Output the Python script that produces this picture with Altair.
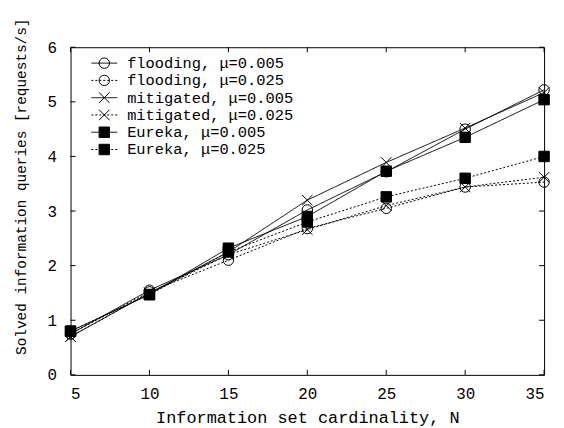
import altair as alt
import pandas as pd

# ---- data ----
N = [5, 10, 15, 20, 25, 30, 35]
flooding_005 = [0.75, 1.55, 2.20, 3.02, 3.72, 4.50, 5.22]
flooding_025 = [0.75, 1.52, 2.10, 2.68, 3.05, 3.44, 3.53]
mitigated_005 = [0.70, 1.50, 2.25, 3.20, 3.89, 4.52, 5.17]
mitigated_025 = [0.70, 1.50, 2.20, 2.66, 3.10, 3.44, 3.62]
eureka_005 = [0.80, 1.47, 2.32, 2.90, 3.73, 4.35, 5.04]
eureka_025 = [0.80, 1.47, 2.25, 2.80, 3.26, 3.60, 4.00]

methods = ["flooding", "mitigated", "Eureka"]
mus = ["0.005", "0.025"]
x_ticks = [5, 10, 15, 20, 25, 30, 35]
y_ticks = [0, 1, 2, 3, 4, 5, 6]

series = [
    ("flooding", "0.005", flooding_005),
    ("flooding", "0.025", flooding_025),
    ("mitigated", "0.005", mitigated_005),
    ("mitigated", "0.025", mitigated_025),
    ("Eureka", "0.005", eureka_005),
    ("Eureka", "0.025", eureka_025),
]

rows = []
for m, mu, vals in series:
    for n, v in zip(N, vals):
        rows.append({"method": m, "mu": mu, "n": n, "v": v, "label": f"{m}, μ={mu}"})
df = pd.DataFrame(rows)
labels = [f"{m}, μ={mu}" for m, mu, _ in series]
leg = pd.DataFrame([{"method": m, "mu": mu, "label": f"{m}, μ={mu}"} for m, mu, _ in series])
xt = pd.DataFrame({"t": x_ticks})
yt = pd.DataFrame({"t": y_ticks})

FONT = "Liberation Mono"
W, H = 477, 330
X_PATH = "M-1,-1L1,1M-1,1L1,-1"

xs = alt.Scale(domain=[5, 35], nice=False, zero=False)
ys = alt.Scale(domain=[0, 6], nice=False, zero=False)
shape_scale = alt.Scale(domain=methods, range=["circle", X_PATH, "square"])
fill_scale = alt.Scale(domain=methods, range=["transparent", "transparent", "black"])
dash_scale = alt.Scale(domain=mus, range=[[1, 0], [2, 2]])

x_axis = alt.Axis(values=x_ticks, format="d", title="Information set cardinality, N",
                  domain=False, ticks=False, tickSize=0, grid=False,
                  labelFont=FONT, labelFontSize=16, labelPadding=11, labelColor="black",
                  titleFont=FONT, titleFontSize=17, titleFontWeight="normal", titleColor="black",
                  titleY=48, titleBaseline="alphabetic")
y_axis = alt.Axis(values=y_ticks, format="d", title="Solved information queries [requests/s]",
                  domain=False, ticks=False, tickSize=0, grid=False,
                  labelFont=FONT, labelFontSize=16, labelPadding=14, labelColor="black",
                  titleFont=FONT, titleFontSize=14.5, titleFontWeight="normal", titleColor="black",
                  titleAngle=270, titleX=-45, titleY=140, titleAlign="center",
                  titleBaseline="alphabetic")

X = alt.X("n:Q", scale=xs, axis=x_axis)
XT = alt.X("t:Q", scale=xs, axis=x_axis)

base = alt.Chart(df)
lines = base.mark_line(color="black", strokeWidth=1).encode(
    x=X,
    y=alt.Y("v:Q", scale=ys, axis=y_axis),
    strokeDash=alt.StrokeDash("mu:N", scale=dash_scale, legend=None),
    detail="label:N",
)
points = base.mark_point(stroke="black", strokeWidth=1, size=110, opacity=1).encode(
    x=X,
    y=alt.Y("v:Q", scale=ys, axis=None),
    shape=alt.Shape("method:N", scale=shape_scale, legend=None),
    fill=alt.Fill("method:N", scale=fill_scale, legend=None),
)

# inward ticks on all four sides
xt_bottom = alt.Chart(xt).mark_rule(color="black", strokeWidth=1).encode(
    x=XT, y=alt.value(H), y2=alt.value(H - 5))
xt_top = alt.Chart(xt).mark_rule(color="black", strokeWidth=1).encode(
    x=XT, y=alt.value(0), y2=alt.value(5))
yt_left = alt.Chart(yt).mark_rule(color="black", strokeWidth=1).encode(
    y=alt.Y("t:Q", scale=ys, axis=None), x=alt.value(0), x2=alt.value(5))
yt_right = alt.Chart(yt).mark_rule(color="black", strokeWidth=1).encode(
    y=alt.Y("t:Q", scale=ys, axis=None), x=alt.value(W), x2=alt.value(W - 5))

# legend drawn inside the plot
ly = alt.Y("label:N", scale=alt.Scale(type="point", domain=labels, range=[16, 103], padding=0),
           axis=None, sort=labels)
leg_base = alt.Chart(leg)
leg_rule = leg_base.mark_rule(color="black", strokeWidth=1).encode(
    x=alt.value(21), x2=alt.value(47), y=ly,
    strokeDash=alt.StrokeDash("mu:N", scale=dash_scale, legend=None))
leg_pt = leg_base.mark_point(stroke="black", strokeWidth=1, size=110, opacity=1).encode(
    x=alt.value(34), y=ly,
    shape=alt.Shape("method:N", scale=shape_scale, legend=None),
    fill=alt.Fill("method:N", scale=fill_scale, legend=None))
leg_txt = leg_base.mark_text(align="left", baseline="middle", font=FONT, fontSize=15.5,
                             color="black").encode(
    x=alt.value(57), y=ly, text="label:N")

chart = alt.layer(
    lines, points, xt_bottom, xt_top, yt_left, yt_right, leg_rule, leg_pt, leg_txt
).resolve_scale(y="independent").properties(
    width=W, height=H,
    autosize=alt.AutoSizeParams(type="none"),
    padding={"left": 63, "top": 38, "right": 12, "bottom": 52},
    background="white",
).configure_view(stroke="black", strokeWidth=1)

chart.save("out.html", embed_options={"renderer": "svg", "actions": False})
